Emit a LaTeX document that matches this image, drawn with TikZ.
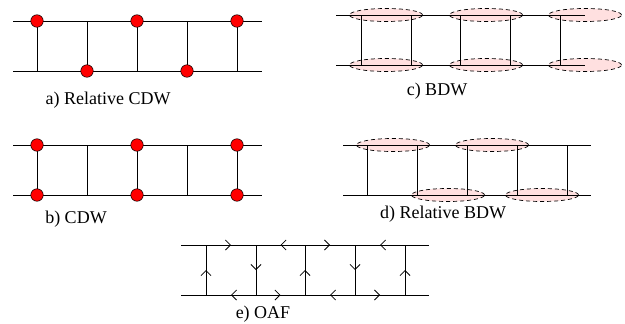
\documentclass[tikz,border=0pt]{standalone}
\usepackage{fontspec}
\setmainfont{Liberation Serif}
\usetikzlibrary{arrows.meta,decorations.markings,shapes.geometric}

\begin{document}
\begin{tikzpicture}[x=1pt,y=-1pt,
rail/.style={line width=0.8pt},
rung/.style={line width=0.7pt},
site/.style={circle,draw,fill=red,inner sep=0pt,minimum size=12.5pt,line width=0.5pt},
bond/.style={ellipse,draw,dash pattern=on 4pt off 3pt,fill=red!12,inner sep=0pt,minimum width=73pt,minimum height=13pt,line width=0.7pt},
caption/.style={font=\fontsize{18}{20}\selectfont},
midarrow/.style={postaction={decorate},decoration={markings,
  mark=at position 0.5 with {\arrow{Straight Barb[length=5pt,width=10pt,line width=0.8pt]}}}}
]
\useasboundingbox (0,0) rectangle (625,324);

% a) relative CDW
\coordinate (aTL) at (13,21);  \coordinate (aTR) at (262,21);
\coordinate (aBL) at (13,71);  \coordinate (aBR) at (262,71);
\foreach \x [count=\i] in {37,87,137,187,237}{
  \coordinate (aT\i) at (\x,21);
  \coordinate (aB\i) at (\x,71);
}
\draw[rail] (aTL) -- (aTR);
\draw[rail] (aBL) -- (aBR);
\foreach \i in {1,...,5} \draw[rung] (aT\i) -- (aB\i);
\node[site] (aS1) at (aT1) {};
\node[site] (aS2) at (aB2) {};
\node[site] (aS3) at (aT3) {};
\node[site] (aS4) at (aB4) {};
\node[site] (aS5) at (aT5) {};
\node[caption] (acap) at (108,100) {a) Relative CDW};

% b) CDW
\coordinate (bTL) at (13,145);  \coordinate (bTR) at (262,145);
\coordinate (bBL) at (13,195);  \coordinate (bBR) at (262,195);
\foreach \x [count=\i] in {37,87,137,187,237}{
  \coordinate (bT\i) at (\x,145);
  \coordinate (bB\i) at (\x,195);
}
\draw[rail] (bTL) -- (bTR);
\draw[rail] (bBL) -- (bBR);
\foreach \i in {1,...,5} \draw[rung] (bT\i) -- (bB\i);
\foreach \i in {1,3,5}{
  \node[site] (bU\i) at (bT\i) {};
  \node[site] (bD\i) at (bB\i) {};
}
\node[caption] (bcap) at (76,219) {b) CDW};

% c) BDW
\foreach \x [count=\i] in {386,486,585}{
  \node[bond] (cU\i) at (\x,15) {};
  \node[bond] (cD\i) at (\x,65) {};
}
\coordinate (cTL) at (336,15);  \coordinate (cTR) at (585,15);
\coordinate (cBL) at (336,65);  \coordinate (cBR) at (585,65);
\foreach \x [count=\i] in {361,411,460,510,560}{
  \coordinate (cT\i) at (\x,15);
  \coordinate (cB\i) at (\x,65);
}
\draw[rail] (cTL) -- (cTR);
\draw[rail] (cBL) -- (cBR);
\foreach \i in {1,...,5} \draw[rung] (cT\i) -- (cB\i);
\node[caption] (ccap) at (437,91) {c) BDW};

% d) relative BDW
\node[bond] (dU1) at (393,145) {};
\node[bond] (dU2) at (492,145) {};
\node[bond] (dD1) at (448,195) {};
\node[bond] (dD2) at (542,195) {};
\coordinate (dTL) at (343,145);  \coordinate (dTR) at (591,145);
\coordinate (dBL) at (343,195);  \coordinate (dBR) at (591,195);
\foreach \x [count=\i] in {367,417,467,517,567}{
  \coordinate (dT\i) at (\x,145);
  \coordinate (dB\i) at (\x,195);
}
\draw[rail] (dTL) -- (dTR);
\draw[rail] (dBL) -- (dBR);
\foreach \i in {1,...,5} \draw[rung] (dT\i) -- (dB\i);
\node[caption] (dcap) at (443,214) {d) Relative BDW};

% e) OAF
\coordinate (eTL) at (181,245);  \coordinate (eTR) at (429,245);
\coordinate (eBL) at (181,295);  \coordinate (eBR) at (429,295);
\foreach \x [count=\i] in {206,256,305,355,405}{
  \coordinate (eT\i) at (\x,245);
  \coordinate (eB\i) at (\x,295);
}
\draw[rail] (eTL) -- (eTR);
\draw[rail] (eBL) -- (eBR);
% currents along the rails
\draw[rail,midarrow] (eT1) -- (eT2);
\draw[rail,midarrow] (eT3) -- (eT2);
\draw[rail,midarrow] (eT3) -- (eT4);
\draw[rail,midarrow] (eT5) -- (eT4);
\draw[rail,midarrow] (eB2) -- (eB1);
\draw[rail,midarrow] (eB2) -- (eB3);
\draw[rail,midarrow] (eB4) -- (eB3);
\draw[rail,midarrow] (eB4) -- (eB5);
% currents along the rungs
\draw[rung,midarrow] (eB1) -- (eT1);
\draw[rung,midarrow] (eT2) -- (eB2);
\draw[rung,midarrow] (eB3) -- (eT3);
\draw[rung,midarrow] (eT4) -- (eB4);
\draw[rung,midarrow] (eB5) -- (eT5);
\node[caption] (ecap) at (263,314) {e) OAF};
\end{tikzpicture}
\end{document}
